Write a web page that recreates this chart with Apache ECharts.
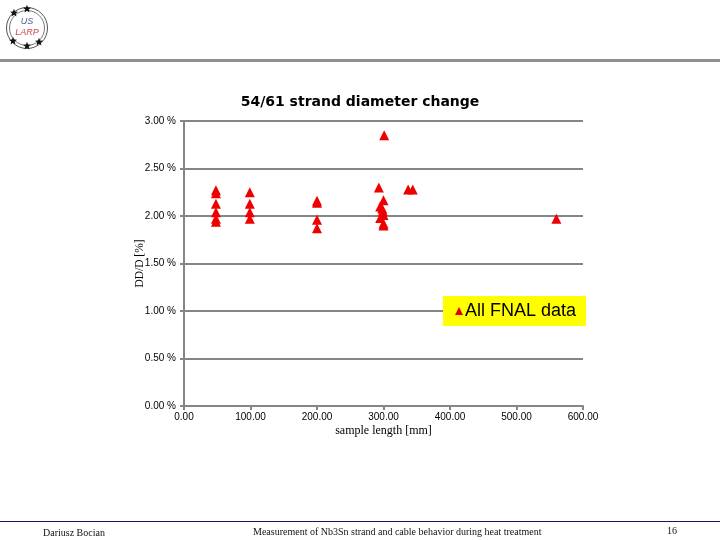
<!DOCTYPE html>
<html><head><meta charset="utf-8">
<style>html,body{margin:0;padding:0;background:#fff}#c{width:720px;height:540px}</style>
<script src="https://cdn.jsdelivr.net/npm/echarts@6/dist/echarts.min.js"></script>
</head><body><div id="c"></div>
<script>
const sampleLength = [48,48,48,48,48,48, 99,99,99,99, 200,200,200,200, 293,301,300,295,298,299,295,300,300,300, 337,344, 560];
const diameterChange = [2.27,2.24,2.13,2.04,1.97,1.94, 2.25,2.13,2.04,1.97, 2.16,2.14,1.96,1.87, 2.30,2.85,2.165,2.10,2.08,2.05,1.98,2.01,1.92,1.90, 2.28,2.28, 1.97];
const seriesName = 'All FNAL data';
const titleText = '54/61 strand diameter change';
const xName = 'sample length [mm]';
const yName = 'DD/D [%]';
const footerLeft = 'Dariusz Bocian';
const footerMid = 'Measurement of Nb3Sn strand and cable behavior during heat treatment';
const pageNo = '16';
const gray = '#868686';
const serif = '"Liberation Serif","DejaVu Serif",serif';
const sans = '"Liberation Sans",Arial,sans-serif';

const stars = [[27,9],[14,13],[13,41],[27,46],[39,42]];
const chart = echarts.init(document.getElementById('c'), null, {renderer:'canvas'});
chart.setOption({
  animation:false,
  backgroundColor:'#fff',
  title:{text:titleText,left:355,top:90,textAlign:'center',
    textStyle:{fontFamily:'"DejaVu Sans",sans-serif',fontSize:14,fontWeight:'bold',color:'#000'}},
  legend:{show:true,left:443,top:296,itemGap:0,padding:[6,10,6,12],backgroundColor:'#ffff00',
    itemWidth:8,itemHeight:8,itemStyle:{color:'#e00000'},
    textStyle:{fontFamily:sans,fontSize:18,color:'#000',padding:[1,0,0,-3]},
    data:[{name:seriesName,icon:'triangle'}]},
  grid:{left:184,right:137,top:121,bottom:134},
  xAxis:{type:'value',min:0,max:600,interval:100,
    name:xName,nameLocation:'middle',nameGap:19,nameMoveOverlap:false,
    nameTextStyle:{fontFamily:serif,fontSize:12,color:'#000'},
    axisLine:{show:true,onZero:false,lineStyle:{color:gray,width:2}},
    axisTick:{show:true,length:4,lineStyle:{color:gray,width:2}},
    splitLine:{show:false},
    axisLabel:{fontFamily:sans,fontSize:10,color:'#000',margin:6,formatter:v=>v.toFixed(2)}},
  yAxis:{type:'value',min:0,max:3,interval:0.5,
    name:yName,nameLocation:'middle',nameGap:38,nameRotate:90,nameMoveOverlap:false,
    nameTextStyle:{fontFamily:serif,fontSize:11.5,color:'#000'},
    axisLine:{show:true,lineStyle:{color:gray,width:2}},
    axisTick:{show:true,length:4,lineStyle:{color:gray,width:2}},
    splitLine:{show:true,lineStyle:{color:gray,width:2}},
    axisLabel:{fontFamily:sans,fontSize:10,color:'#000',margin:8,formatter:v=>v.toFixed(2)+' %'}},
  series:[{name:seriesName,type:'scatter',symbol:'triangle',symbolSize:[10,10],
    itemStyle:{color:'#ee0000',opacity:1},z:5,
    data:sampleLength.map((x,i)=>[x,diameterChange[i]])}],
  graphic:[
    {type:'rect',shape:{x:0,y:59,width:720,height:3},style:{fill:'#8f8f8f'},silent:true},
    {type:'rect',shape:{x:0,y:521,width:720,height:1},style:{fill:'#1a1464'},silent:true},
    {type:'circle',shape:{cx:27,cy:28,r:20.5},style:{fill:'none',stroke:'#555',lineWidth:1}},
    {type:'circle',shape:{cx:27,cy:28,r:17.5},style:{fill:'none',stroke:'#777',lineWidth:1}},
    ...stars.map(p=>({type:'polygon',shape:{points:Array.from({length:10},(_,k)=>{
      const a=-Math.PI/2+k*Math.PI/5, r=k%2?1.8:4.2;
      return [p[0]+r*Math.cos(a),p[1]+r*Math.sin(a)];})},style:{fill:'#111'}})),
    {type:'text',x:27,y:21,style:{text:'US',fill:'#55609a',font:'italic 9px '+sans,align:'center',verticalAlign:'middle'}},
    {type:'text',x:27,y:32,style:{text:'LARP',fill:'#c8454f',font:'italic 9px '+sans,align:'center',verticalAlign:'middle'}},
    {type:'text',x:43,y:528,style:{text:footerLeft,fill:'#111',font:'10px '+serif}},
    {type:'text',x:253,y:527,style:{text:footerMid,fill:'#111',font:'10px '+serif}},
    {type:'text',x:667,y:526,style:{text:pageNo,fill:'#111',font:'10px '+serif}}
  ]
});
</script></body></html>
